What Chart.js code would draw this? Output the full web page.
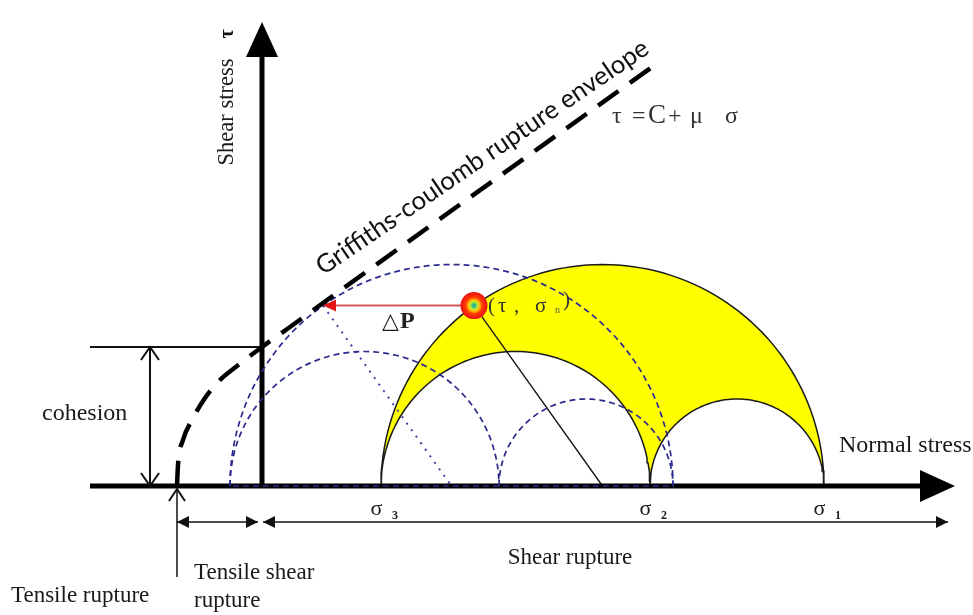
<!DOCTYPE html>
<html>
<head>
<meta charset="utf-8">
<script src="https://cdn.jsdelivr.net/npm/chart.js@4/dist/chart.umd.min.js"></script>
<style>
  html, body { margin: 0; padding: 0; background: #fff; }
  #wrap { width: 973px; height: 615px; }
</style>
</head>
<body>
<div id="wrap"><canvas id="chart"></canvas></div>
<script>
// Mohr diagram values (stress units)
const sigma3 = 11.9;
const sigma2 = 38.8;
const sigma1 = 56.2;
const deltaP = 15.1;     // shift of the circles by pore pressure
const sigmaN = 21.2;     // normal stress of the marked point
const cohesion = 13.9;
const tensile = -8.5;

// Griffith-Coulomb envelope, points
const envelopeX = [-8.5, -8.4, -7.9, -7.0, -5.7, -4.2, -2.5, 0, 2.8, 6.1, 39.0];
const envelopeY = [0, 2.1, 4.6, 6.6, 8.8, 10.6, 12.0, 13.9, 15.9, 18.3, 41.9];

// axes and dimension lines
const xRange = [-26.2, 71.1];
const yRange = [-12.9, 48.6];
const axisStart = -17.2;
const axisTipX = 69.3;
const axisTipY = 46.4;
const cohesionArrowX = -11.2;
const pointerEnd = -9.1;
const dimY = -3.6;
const dimEnd = 68.6;

function arc(c, r, from, to) {
  const pts = [];
  const step = from > to ? -2 : 2;
  for (let a = from; step > 0 ? a <= to : a >= to; a += step) {
    const t = a * Math.PI / 180;
    pts.push({ x: c + r * Math.cos(t), y: r * Math.sin(t) });
  }
  return pts;
}

const cBig = (sigma3 + sigma1) / 2, rBig = (sigma1 - sigma3) / 2;
const c32 = (sigma3 + sigma2) / 2, r32 = (sigma2 - sigma3) / 2;
const c21 = (sigma2 + sigma1) / 2, r21 = (sigma1 - sigma2) / 2;
const tauN = Math.sqrt(rBig * rBig - (sigmaN - cBig) * (sigmaN - cBig));

// yellow band = big circle minus the two small circles
const band = arc(cBig, rBig, 180, 0).concat(arc(c21, r21, 0, 180), arc(c32, r32, 0, 180));
const shiftedBig = arc(cBig - deltaP, rBig, 180, 0).concat([{ x: sigma3 - deltaP, y: 0 }]);
const shifted32 = arc(c32 - deltaP, r32, 180, 0);
const shifted21 = arc(c21 - deltaP, r21, 180, 0);
const envelope = envelopeX.map((x, i) => ({ x: x, y: envelopeY[i] }));

const navy = '#2b2b8f';
function line(data, style, order) {
  return Object.assign({
    data: data, showLine: true, pointRadius: 0, fill: false, tension: 0,
    borderWidth: 1.5, borderColor: '#111', order: order
  }, style);
}

function head(ctx, x, y, ang, len, half, filled, color) {
  ctx.save();
  ctx.translate(x, y);
  ctx.rotate(ang);
  ctx.beginPath();
  ctx.moveTo(-len, -half);
  ctx.lineTo(0, 0);
  ctx.lineTo(-len, half);
  if (filled) {
    ctx.closePath();
    ctx.fillStyle = color;
    ctx.fill();
  } else {
    ctx.strokeStyle = color;
    ctx.lineWidth = 2;
    ctx.stroke();
  }
  ctx.restore();
}

function txt(ctx, s, x, y, font, color, align) {
  ctx.font = font;
  ctx.fillStyle = color || '#111';
  ctx.textAlign = align || 'left';
  ctx.textBaseline = 'alphabetic';
  ctx.fillText(s, x, y);
}

const decor = {
  id: 'decor',
  beforeDatasetsDraw(chart) {
    const ctx = chart.ctx, sx = chart.scales.x, sy = chart.scales.y;
    ctx.save();
    ctx.beginPath();
    band.forEach((p, i) => {
      const X = sx.getPixelForValue(p.x), Y = sy.getPixelForValue(p.y);
      if (i === 0) ctx.moveTo(X, Y); else ctx.lineTo(X, Y);
    });
    ctx.closePath();
    ctx.fillStyle = '#ffff00';
    ctx.fill();
    ctx.restore();
  },
  afterDatasetsDraw(chart) {
    const ctx = chart.ctx, sx = chart.scales.x, sy = chart.scales.y;
    const X = v => sx.getPixelForValue(v), Y = v => sy.getPixelForValue(v);
    const serif = '"Liberation Serif", "Times New Roman", serif';

    // arrow heads
    head(ctx, X(axisTipX), Y(0), 0, 35, 16, true, '#000');
    head(ctx, X(0), Y(axisTipY), -Math.PI / 2, 35, 16, true, '#000');
    head(ctx, X(sigmaN - deltaP), Y(tauN), Math.PI, 13, 6, true, '#e01515');
    head(ctx, X(tensile), Y(dimY), Math.PI, 12, 6, true, '#111');
    head(ctx, X(-0.4), Y(dimY), 0, 12, 6, true, '#111');
    head(ctx, X(0.1), Y(dimY), Math.PI, 12, 6, true, '#111');
    head(ctx, X(dimEnd), Y(dimY), 0, 12, 6, true, '#111');
    head(ctx, X(cohesionArrowX), Y(cohesion), -Math.PI / 2, 13, 9, false, '#111');
    head(ctx, X(cohesionArrowX), Y(0), Math.PI / 2, 13, 9, false, '#111');
    head(ctx, X(tensile), Y(-0.3), -Math.PI / 2, 12, 8, false, '#111');

    // stress point marker
    const mx = X(sigmaN), my = Y(tauN);
    const g = ctx.createRadialGradient(mx, my, 0, mx, my, 13.5);
    g.addColorStop(0, '#3b8fe0');
    g.addColorStop(0.15, '#3fcf6a');
    g.addColorStop(0.32, '#e6e620');
    g.addColorStop(0.48, '#ff9a00');
    g.addColorStop(0.62, '#ff3a00');
    g.addColorStop(1, '#ea1212');
    ctx.save();
    ctx.beginPath();
    ctx.arc(mx, my, 13.5, 0, Math.PI * 2);
    ctx.fillStyle = g;
    ctx.fill();
    ctx.restore();

    // texts
    txt(ctx, 'cohesion', X(-22.0), Y(6.6), '24px ' + serif, '#1a1a1a');
    txt(ctx, 'Tensile rupture', X(-25.1), Y(-11.6), '23px ' + serif, '#1a1a1a');
    txt(ctx, 'Tensile shear', X(-6.8), Y(-9.3), '23px ' + serif, '#1a1a1a');
    txt(ctx, 'rupture', X(-6.8), Y(-12.1), '23px ' + serif, '#1a1a1a');
    txt(ctx, 'Shear rupture', X(30.8), Y(-7.8), '23px ' + serif, '#1a1a1a', 'center');
    txt(ctx, 'Normal stress', X(57.7), Y(3.4), '24px ' + serif, '#1a1a1a');

    [[sigma3, '3'], [sigma2, '2'], [sigma1, '1']].forEach(s => {
      txt(ctx, 'σ', X(s[0] - 0.45), Y(-2.9), '22px ' + serif, '#1a1a1a', 'center');
      txt(ctx, s[1], X(s[0] + 1.4), Y(-3.3), 'bold 12px ' + serif, '#1a1a1a', 'center');
    });

    txt(ctx, '△', X(12.0), Y(15.8), '22px "DejaVu Sans", sans-serif', '#222');
    txt(ctx, 'P', X(13.8), Y(15.8), 'bold 24px ' + serif, '#222');

    txt(ctx, '(', X(22.6), Y(17.4), '21px ' + serif, '#333');
    txt(ctx, 'τ', X(23.6), Y(17.4), '21px ' + serif, '#333');
    txt(ctx, ',', X(25.2), Y(17.4), '21px ' + serif, '#333');
    txt(ctx, 'σ', X(27.3), Y(17.4), '21px ' + serif, '#333');
    txt(ctx, 'n', X(29.3), Y(17.3), '10px ' + serif, '#555');
    txt(ctx, ')', X(30.1), Y(18.0), '21px ' + serif, '#333');

    txt(ctx, 'τ', X(35.0), Y(36.3), '24px ' + serif, '#333');
    txt(ctx, '=', X(37.0), Y(36.3), '24px ' + serif, '#333');
    txt(ctx, 'C', X(38.6), Y(36.3), '27px ' + serif, '#333');
    txt(ctx, '+', X(40.6), Y(36.3), '24px ' + serif, '#333');
    txt(ctx, 'μ', X(42.8), Y(36.3), '24px ' + serif, '#333');
    txt(ctx, 'σ', X(46.3), Y(36.3), '24px ' + serif, '#333');

    // rotated labels
    ctx.save();
    ctx.translate(X(-2.9), Y(37.4));
    ctx.rotate(-Math.PI / 2);
    txt(ctx, 'Shear stress', 0, 0, '22.5px ' + serif, '#1a1a1a', 'center');
    ctx.restore();
    ctx.save();
    ctx.translate(X(-2.9), Y(45.2));
    ctx.rotate(-Math.PI / 2);
    txt(ctx, 'τ', 0, 0, 'bold 20px ' + serif, '#111', 'center');
    ctx.restore();

    ctx.save();
    ctx.translate(X(22.5), Y(32.2));
    ctx.rotate(-34.3 * Math.PI / 180);
    ctx.font = '25px Lato, "Open Sans", sans-serif';
    const w = ctx.measureText('Griffiths-coulomb rupture envelope').width;
    const size = 25 * 396 / w;
    txt(ctx, 'Griffiths-coulomb rupture envelope', 0, 0, size.toFixed(1) + 'px Lato, "Open Sans", sans-serif', '#111', 'center');
    ctx.restore();
  }
};

new Chart(document.getElementById('chart'), {
  type: 'scatter',
  data: {
    datasets: [
      line(band, { borderColor: '#1a1a1a', borderWidth: 1.5 }, 6),
      line(shiftedBig, { borderColor: navy, borderDash: [6, 4], borderWidth: 1.7 }, 2),
      line(shifted32, { borderColor: navy, borderDash: [6, 4], borderWidth: 1.7 }, 2),
      line(shifted21, { borderColor: navy, borderDash: [6, 4], borderWidth: 1.7 }, 2),
      line([{ x: sigmaN, y: tauN }, { x: cBig, y: 0 }], { borderWidth: 1.3 }, 5),
      line([{ x: sigmaN - deltaP, y: tauN }, { x: cBig - deltaP, y: 0 }],
        { borderColor: '#4040a4', borderDash: [2, 6], borderWidth: 2 }, 5),
      line(envelope, { borderColor: '#000', borderWidth: 4.5, borderDash: [25, 14], cubicInterpolationMode: 'monotone' }, 1),
      line([{ x: sigmaN, y: tauN }, { x: sigmaN - deltaP + 1, y: tauN }], { borderColor: '#d45a5a', borderWidth: 2 }, 4),
      line([{ x: axisStart, y: 0 }, { x: axisTipX - 3.4, y: 0 }], { borderColor: '#000', borderWidth: 5 }, 3),
      line([{ x: 0, y: 0 }, { x: 0, y: axisTipY - 3.4 }], { borderColor: '#000', borderWidth: 5 }, 3),
      line([{ x: axisStart, y: cohesion }, { x: 0, y: cohesion }], { borderWidth: 2 }, 3),
      line([{ x: cohesionArrowX, y: cohesion }, { x: cohesionArrowX, y: 0 }], { borderWidth: 2 }, 3),
      line([{ x: tensile, y: -0.3 }, { x: tensile, y: pointerEnd }], { borderWidth: 1.5 }, 3),
      line([{ x: tensile, y: dimY }, { x: -0.4, y: dimY }], { borderWidth: 1.5 }, 3),
      line([{ x: 0.1, y: dimY }, { x: dimEnd, y: dimY }], { borderWidth: 1.5 }, 3)
    ]
  },
  options: {
    responsive: true,
    maintainAspectRatio: false,
    animation: false,
    events: [],
    layout: { padding: 0 },
    plugins: { legend: { display: false }, tooltip: { enabled: false } },
    scales: {
      x: { type: 'linear', min: xRange[0], max: xRange[1], display: false },
      y: { type: 'linear', min: yRange[0], max: yRange[1], display: false }
    }
  },
  plugins: [decor]
});
</script>
</body>
</html>
